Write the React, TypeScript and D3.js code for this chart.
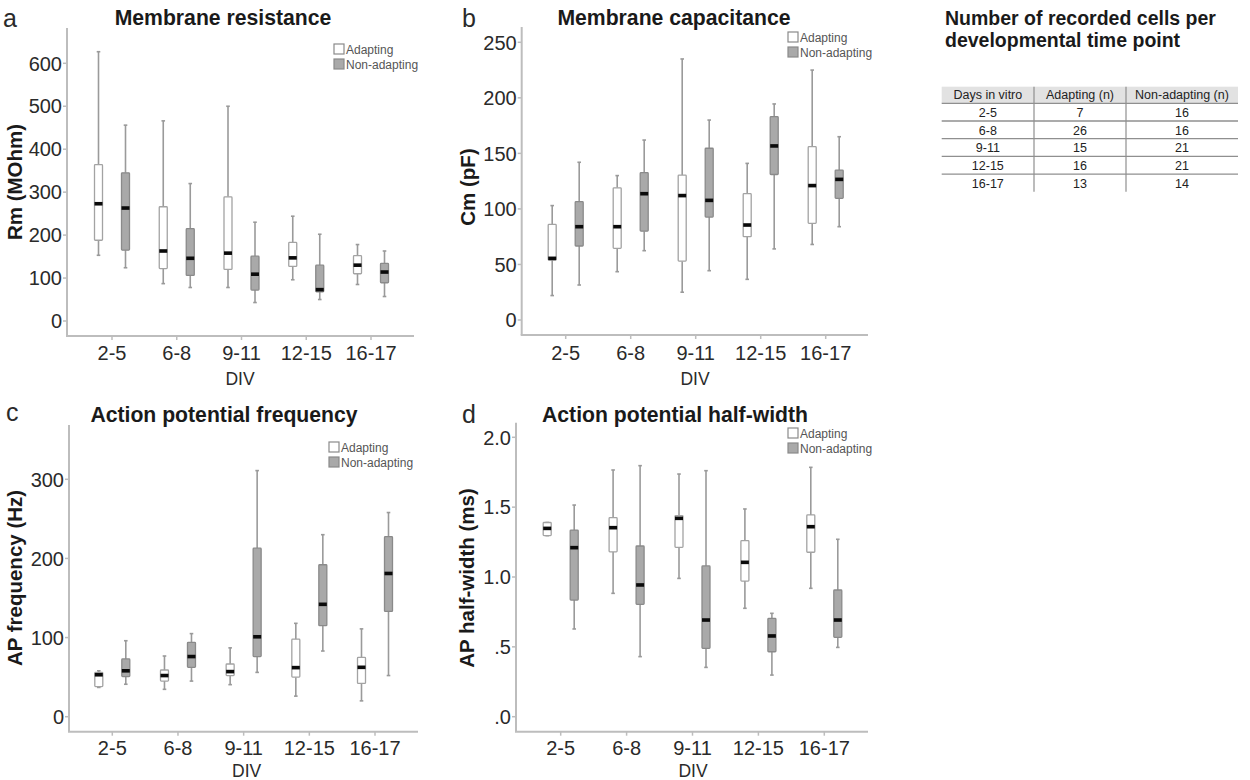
import React from 'react';
import * as d3 from 'd3';

const categories = ['2-5', '6-8', '9-11', '12-15', '16-17'];

// [min, q1, median, q3, max]
const rmAdapting = [
  [153, 188, 273, 364, 627],
  [87, 122, 163, 266, 466],
  [78, 120, 158, 289, 500],
  [96, 127, 147, 183, 244],
  [85, 110, 130, 152, 178],
];
const rmNonAdapting = [
  [124, 165, 263, 345, 456],
  [78, 106, 146, 215, 320],
  [43, 72, 109, 151, 230],
  [50, 68, 73, 130, 202],
  [57, 89, 114, 134, 163],
];
const cmAdapting = [
  [22, 54, 55.5, 86, 103],
  [43.5, 64.5, 84, 119, 130],
  [25, 53, 112, 130.5, 235],
  [36.6, 75, 85.5, 113.7, 141],
  [68, 87, 121, 156, 225],
];
const cmNonAdapting = [
  [31.5, 66.6, 84, 106.5, 142],
  [62.4, 80, 113.7, 132.6, 162],
  [44.4, 92.7, 107.7, 154.6, 180],
  [64, 131, 156.7, 183, 194.5],
  [84, 109.5, 126.6, 135, 165],
];
const apfAdapting = [
  [37, 38, 53, 56, 58],
  [34.6, 45, 52, 59, 76.7],
  [40.5, 52, 57, 66.6, 87],
  [26, 50, 62, 98, 118],
  [20, 42, 62.4, 75, 111],
];
const apfNonAdapting = [
  [41, 50.6, 58, 73, 96],
  [45, 62.4, 76, 94, 105],
  [56, 76, 101, 213, 311],
  [83, 115, 142, 192, 230],
  [52, 133, 181, 227.5, 258],
];
const aphwAdapting = [
  [1.296, 1.296, 1.348, 1.39, 1.39],
  [0.883, 1.18, 1.353, 1.425, 1.766],
  [0.99, 1.212, 1.42, 1.439, 1.737],
  [0.776, 0.971, 1.105, 1.26, 1.487],
  [0.919, 1.177, 1.36, 1.444, 1.785],
];
const aphwNonAdapting = [
  [0.628, 0.835, 1.21, 1.336, 1.515],
  [0.43, 0.804, 0.943, 1.222, 1.797],
  [0.353, 0.489, 0.692, 1.079, 1.761],
  [0.298, 0.465, 0.578, 0.704, 0.74],
  [0.496, 0.568, 0.692, 0.907, 1.27],
];

const rmTicks = [0, 100, 200, 300, 400, 500, 600];
const cmTicks = [0, 50, 100, 150, 200, 250];
const apfTicks = [0, 100, 200, 300];
const aphwTicks = [0, 0.5, 1.0, 1.5, 2.0];
const aphwTickLabels = ['.0', '.5', '1.0', '1.5', '2.0'];

const seriesNames = ['Adapting', 'Non-adapting'];

const tableTitle = ['Number of recorded cells per', 'developmental time point'];
const tableHeader = ['Days in vitro', 'Adapting (n)', 'Non-adapting (n)'];
const adaptingN = [7, 26, 15, 16, 13];
const nonAdaptingN = [16, 16, 21, 21, 14];

const FONT = '"Liberation Sans", Arial, Helvetica, sans-serif';
const AXIS = '#bdbdbd';
const WHISK = '#9a9a9a';
const GRAYFILL = '#a9a9a9';
const GRAYSTROKE = '#8a8a8a';
const WHITESTROKE = '#a3a3a3';
const TXT = '#2a2a2a';

type PanelCfg = {
  letter: string; letterX: number; letterY: number;
  title: string; titleX: number; titleY: number;
  yLabel: string; yLabX: number; yLabY: number;
  adapting: number[][]; nonAdapting: number[][];
  ticks: number[]; tickLabels?: string[];
  axisX: number; top: number; bottom: number; right: number;
  yDom: [number, number]; yRng: [number, number];
  xFirst: number; xLast: number; tickLabelY: number;
  divX: number; divY: number;
  legX: number; legY: number;
};

const panels: PanelCfg[] = [
  {
    letter: 'a', letterX: 3, letterY: 27,
    title: 'Membrane resistance', titleX: 223, titleY: 25,
    yLabel: 'Rm (MOhm)', yLabX: 15, yLabY: 182,
    adapting: rmAdapting, nonAdapting: rmNonAdapting,
    ticks: rmTicks,
    axisX: 67, top: 28, bottom: 336, right: 414,
    yDom: [0, 600], yRng: [321, 63.3],
    xFirst: 112, xLast: 371, tickLabelY: 360,
    divX: 240, divY: 385,
    legX: 334, legY: 44,
  },
  {
    letter: 'b', letterX: 462, letterY: 27,
    title: 'Membrane capacitance', titleX: 674, titleY: 25,
    yLabel: 'Cm (pF)', yLabX: 468, yLabY: 187,
    adapting: cmAdapting, nonAdapting: cmNonAdapting,
    ticks: cmTicks,
    axisX: 521.7, top: 27, bottom: 335, right: 868,
    yDom: [0, 250], yRng: [320, 42.3],
    xFirst: 565.7, xLast: 825.7, tickLabelY: 360,
    divX: 695, divY: 385,
    legX: 788, legY: 32,
  },
  {
    letter: 'c', letterX: 6, letterY: 421,
    title: 'Action potential frequency', titleX: 224, titleY: 421.5,
    yLabel: 'AP frequency (Hz)', yLabX: 15, yLabY: 578,
    adapting: apfAdapting, nonAdapting: apfNonAdapting,
    ticks: apfTicks,
    axisX: 69, top: 425, bottom: 731.7, right: 418,
    yDom: [0, 300], yRng: [716.7, 479.3],
    xFirst: 112.3, xLast: 375, tickLabelY: 755,
    divX: 246.7, divY: 777,
    legX: 329, legY: 442,
  },
  {
    letter: 'd', letterX: 462, letterY: 423,
    title: 'Action potential half-width', titleX: 675, titleY: 421.5,
    yLabel: 'AP half-width (ms)', yLabX: 466.7, yLabY: 578,
    adapting: aphwAdapting, nonAdapting: aphwNonAdapting,
    ticks: aphwTicks, tickLabels: aphwTickLabels,
    axisX: 516, top: 422.7, bottom: 731.7, right: 868,
    yDom: [0, 2], yRng: [716.7, 437.3],
    xFirst: 560.7, xLast: 824.3, tickLabelY: 755,
    divX: 693, divY: 777,
    legX: 788, legY: 428,
  },
];

const BOX_OFF = 13.5;
const BOX_W = 8;

function BoxMark({ cx, s, y, gray }: { cx: number; s: number[]; y: d3.ScaleLinear<number, number>; gray: boolean }) {
  const [mn, q1, md, q3, mx] = s;
  const x0 = cx - BOX_W / 2;
  return (
    <g>
      <line x1={cx} x2={cx} y1={y(mx)} y2={y(q3)} stroke={WHISK} strokeWidth={1.6} />
      <line x1={cx} x2={cx} y1={y(q1)} y2={y(mn)} stroke={WHISK} strokeWidth={1.6} />
      <line x1={cx - 1.8} x2={cx + 1.8} y1={y(mx)} y2={y(mx)} stroke={WHISK} strokeWidth={1.6} />
      <line x1={cx - 1.8} x2={cx + 1.8} y1={y(mn)} y2={y(mn)} stroke={WHISK} strokeWidth={1.6} />
      <rect x={x0} y={y(q3)} width={BOX_W} height={Math.max(0.5, y(q1) - y(q3))}
        fill={gray ? GRAYFILL : '#ffffff'} stroke={gray ? GRAYSTROKE : WHITESTROKE} strokeWidth={1.3} rx={0.8} />
      <rect x={x0} y={y(md) - 1.8} width={BOX_W} height={3.6} fill="#0a0a0a" />
    </g>
  );
}

function Panel({ p }: { p: PanelCfg }) {
  const y = d3.scaleLinear().domain(p.yDom).range(p.yRng);
  const x = d3.scalePoint<string>().domain(categories).range([p.xFirst, p.xLast]);
  return (
    <g fontFamily={FONT}>
      <text x={p.letterX} y={p.letterY} fontSize={25} fill={TXT}>{p.letter}</text>
      <text x={p.titleX} y={p.titleY} fontSize={21.2} fontWeight="bold" textAnchor="middle" fill="#1a1a1a">{p.title}</text>
      {/* axes */}
      <line x1={p.axisX} x2={p.axisX} y1={p.top} y2={p.bottom} stroke={AXIS} strokeWidth={2} />
      <line x1={p.axisX - 1} x2={p.right} y1={p.bottom} y2={p.bottom} stroke={AXIS} strokeWidth={2} />
      {p.ticks.map((t, i) => (
        <g key={'yt' + i}>
          <line x1={p.axisX - 4} x2={p.axisX} y1={y(t)} y2={y(t)} stroke={AXIS} strokeWidth={1.5} />
          <text x={p.axisX - 5} y={y(t)} dy="0.36em" textAnchor="end" fontSize={20} fill={TXT}>
            {p.tickLabels ? p.tickLabels[i] : String(t)}
          </text>
        </g>
      ))}
      {categories.map((c) => (
        <g key={'xt' + c}>
          <line x1={x(c)!} x2={x(c)!} y1={p.bottom} y2={p.bottom + 4} stroke={AXIS} strokeWidth={1.5} />
          <text x={x(c)!} y={p.tickLabelY} textAnchor="middle" fontSize={20} fill={TXT}>{c}</text>
        </g>
      ))}
      <text x={p.divX} y={p.divY} textAnchor="middle" fontSize={17.5} fill={TXT}>DIV</text>
      <text transform={`translate(${p.yLabX},${p.yLabY}) rotate(-90)`} dy="0.36em" textAnchor="middle"
        fontSize={20.5} fontWeight="bold" fill="#1a1a1a">{p.yLabel}</text>
      {/* boxes */}
      {categories.map((c, i) => (
        <g key={'b' + c}>
          <BoxMark cx={x(c)! - BOX_OFF} s={p.adapting[i]} y={y} gray={false} />
          <BoxMark cx={x(c)! + BOX_OFF} s={p.nonAdapting[i]} y={y} gray={true} />
        </g>
      ))}
      {/* legend */}
      {seriesNames.map((n, i) => (
        <g key={'lg' + n}>
          <rect x={p.legX} y={p.legY + i * 15} width={10} height={10}
            fill={i === 0 ? '#ffffff' : GRAYFILL} stroke={i === 0 ? '#8a8a8a' : GRAYSTROKE} strokeWidth={1.2} />
          <text x={p.legX + 12} y={p.legY + i * 15 + 9.5} fontSize={12} fill="#555">{n}</text>
        </g>
      ))}
    </g>
  );
}

function Table() {
  const left = 941.7, right = 1238;
  const cols = [941.7, 1034, 1126, 1238];
  const headTop = 86.7, headBot = 103.3, rowH = 17.7;
  const centers = [(cols[0] + cols[1]) / 2, (cols[1] + cols[2]) / 2, (cols[2] + cols[3]) / 2];
  const bottom = headBot + rowH * categories.length;
  return (
    <g fontFamily={FONT}>
      {tableTitle.map((t, i) => (
        <text key={t} x={945} y={25 + i * 22} fontSize={19.5} fontWeight="bold" fill="#1a1a1a">{t}</text>
      ))}
      <rect x={left} y={headTop} width={right - left} height={headBot - headTop} fill="#e2e2e2" />
      {tableHeader.map((h, i) => (
        <text key={h} x={centers[i]} y={headTop + 12.5} textAnchor="middle" fontSize={12.5} fill="#222">{h}</text>
      ))}
      {categories.map((c, r) => (
        <g key={'row' + c}>
          <line x1={left} x2={right} y1={headBot + r * rowH} y2={headBot + r * rowH} stroke="#8f8f8f" strokeWidth={1.3} />
          <text x={centers[0]} y={headBot + r * rowH + 13.5} textAnchor="middle" fontSize={12.5} fill="#222">{c}</text>
          <text x={centers[1]} y={headBot + r * rowH + 13.5} textAnchor="middle" fontSize={12.5} fill="#222">{adaptingN[r]}</text>
          <text x={centers[2]} y={headBot + r * rowH + 13.5} textAnchor="middle" fontSize={12.5} fill="#222">{nonAdaptingN[r]}</text>
        </g>
      ))}
      <line x1={cols[1]} x2={cols[1]} y1={headTop} y2={bottom} stroke="#8f8f8f" strokeWidth={1.2} />
      <line x1={cols[2]} x2={cols[2]} y1={headTop} y2={bottom} stroke="#8f8f8f" strokeWidth={1.2} />
    </g>
  );
}

export default function App() {
  return (
    <svg width={1250} height={780} viewBox="0 0 1250 780"
      style={{ position: 'absolute', left: 0, top: 0, background: '#ffffff' }}>
      <rect x={0} y={0} width={1250} height={780} fill="#ffffff" />
      {panels.map((p) => <Panel key={p.letter} p={p} />)}
      <Table />
    </svg>
  );
}
